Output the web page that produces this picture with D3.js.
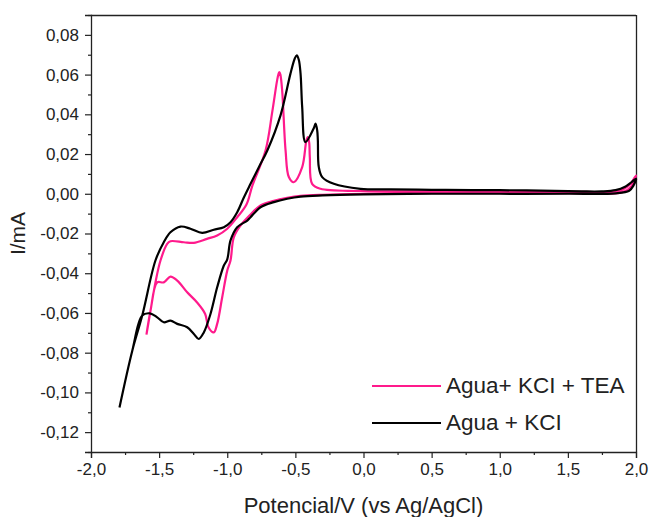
<!DOCTYPE html>
<html>
<head>
<meta charset="utf-8">
<script src="https://cdn.jsdelivr.net/npm/d3@7"></script>
<style>
  html, body { margin: 0; padding: 0; background: #fff; }
  svg { display: block; }
  text { font-family: "Liberation Sans", Arial, sans-serif; fill: #222; }
</style>
</head>
<body>
<svg id="chart" width="649" height="517"></svg>
<script>
// ---- Data ----
const seriesNames = ["Agua+ KCI + TEA", "Agua + KCI"];
const seriesColors = ["#ff1a8c", "#000000"];

// Agua + KCI (black) : potential (V) and current (mA), in scan order
const kclV = [-1.791, -1.697, -1.624, -1.527, -1.466, -1.417, -1.343, -1.270, -1.184, -1.099, -1.025, -0.976, -0.927, -0.879, -0.829, -0.768, -0.706, -0.609, -0.536, -0.505, -0.490, -0.475, -0.462, -0.450, -0.426, -0.365, -0.352, -0.340, -0.335, -0.328, -0.303, -0.218, -0.022, 0.2, 0.5, 0.8, 1.0, 1.3, 1.6, 1.75, 1.85, 1.92, 1.97, 2.0,
  1.98, 1.95, 1.85, 1.5, 1.0, 0.5, 0.0, -0.3, -0.462, -0.560, -0.658, -0.756, -0.829, -0.853, -0.927, -0.976, -1.000, -1.025, -1.074, -1.123, -1.172, -1.209, -1.245, -1.294, -1.367, -1.417, -1.466, -1.514, -1.568, -1.624, -1.697, -1.791];
const kclI = [-0.1076, -0.0790, -0.0613, -0.0336, -0.0244, -0.0194, -0.0165, -0.0176, -0.0197, -0.0181, -0.0168, -0.0143, -0.0093, -0.0020, 0.0050, 0.0134, 0.0218, 0.0395, 0.0605, 0.0680, 0.0697, 0.0675, 0.0605, 0.0436, 0.0260, 0.0330, 0.0353, 0.0320, 0.0269, 0.0134, 0.0084, 0.0050, 0.0025, 0.0022, 0.0020, 0.0018, 0.0018, 0.0016, 0.0012, 0.0012, 0.0018, 0.0035, 0.0060, 0.0075,
  0.0040, 0.0015, 0.0002, 0.0000, 0.0000, 0.0000, -0.0003, -0.0008, -0.0014, -0.0025, -0.0042, -0.0068, -0.0118, -0.0135, -0.0168, -0.0235, -0.0330, -0.0361, -0.0471, -0.0605, -0.0698, -0.0731, -0.0706, -0.0672, -0.0655, -0.0639, -0.0647, -0.0622, -0.0602, -0.0613, -0.0790, -0.1076];

// Agua+ KCI + TEA (pink)
const teaV = [-1.593, -1.563, -1.527, -1.490, -1.441, -1.417, -1.319, -1.246, -1.149, -1.074, -1.000, -0.927, -0.859, -0.815, -0.719, -0.670, -0.634, -0.623, -0.617, -0.610, -0.597, -0.572, -0.548, -0.512, -0.450, -0.419, -0.409, -0.399, -0.394, -0.377, -0.316, -0.022, 0.5, 1.0, 1.5, 1.8, 1.9, 1.96, 2.0,
  1.97, 1.9, 1.5, 0.5, 0.0, -0.3, -0.462, -0.560, -0.658, -0.756, -0.829, -0.903, -0.952, -0.976, -1.000, -1.037, -1.074, -1.099, -1.138, -1.162, -1.223, -1.294, -1.367, -1.417, -1.466, -1.514, -1.563, -1.593];
const teaI = [-0.0709, -0.0588, -0.0446, -0.0336, -0.0252, -0.0239, -0.0244, -0.0247, -0.0227, -0.0210, -0.0176, -0.0118, -0.0054, 0.0042, 0.0218, 0.0411, 0.0571, 0.0605, 0.0613, 0.0600, 0.0521, 0.0218, 0.0084, 0.0058, 0.0134, 0.0269, 0.0285, 0.0260, 0.0184, 0.0050, 0.0025, 0.0014, 0.0012, 0.0012, 0.0010, 0.0010, 0.0020, 0.0050, 0.0092,
  0.0040, 0.0008, 0.0003, 0.0003, 0.0000, -0.0005, -0.0011, -0.0021, -0.0036, -0.0059, -0.0104, -0.0160, -0.0219, -0.0336, -0.0387, -0.0521, -0.0655, -0.0698, -0.0672, -0.0605, -0.0546, -0.0496, -0.0437, -0.0417, -0.0446, -0.0446, -0.0588, -0.0709];

const xMajorTicks = [-2.0, -1.5, -1.0, -0.5, 0.0, 0.5, 1.0, 1.5, 2.0];
const xMinorTicks = [-1.75, -1.25, -0.75, -0.25, 0.25, 0.75, 1.25, 1.75];
const yMajorTicks = [-0.12, -0.10, -0.08, -0.06, -0.04, -0.02, 0.00, 0.02, 0.04, 0.06, 0.08];
const yMinorTicks = [-0.13, -0.11, -0.09, -0.07, -0.05, -0.03, -0.01, 0.01, 0.03, 0.05, 0.07, 0.09];

const xTitle = "Potencial/V (vs Ag/AgCl)";
const yTitle = "I/mA";

// ---- Layout ----
const svg = d3.select("#chart");
const L = 91, R = 636, T = 15, B = 452;
const x = d3.scaleLinear().domain([-2, 2]).range([L, R]);
const y = d3.scaleLinear().domain([-0.13, 0.09]).range([B, T]);

const fmtX = d => d3.format(".1f")(d).replace(".", ",").replace("−", "-");
const fmtY = d => d3.format(".2f")(d).replace(".", ",").replace("−", "-");

// frame (top & right)
svg.append("line").attr("x1", L).attr("x2", R).attr("y1", T + 0.5).attr("y2", T + 0.5)
  .attr("stroke", "#222").attr("stroke-width", 1.3);
svg.append("line").attr("x1", R + 0.5).attr("x2", R + 0.5).attr("y1", T).attr("y2", B)
  .attr("stroke", "#222").attr("stroke-width", 1.3);

// x axis
svg.append("g").attr("transform", `translate(0,${B})`)
  .call(d3.axisBottom(x).tickValues(xMajorTicks).tickFormat(fmtX).tickSize(6).tickPadding(5));
svg.append("g").attr("transform", `translate(0,${B})`)
  .call(d3.axisBottom(x).tickValues(xMinorTicks).tickFormat("").tickSize(3))
  .select(".domain").remove();

// y axis
svg.append("g").attr("transform", `translate(${L},0)`)
  .call(d3.axisLeft(y).tickValues(yMajorTicks).tickFormat(fmtY).tickSize(6).tickPadding(6));
svg.append("g").attr("transform", `translate(${L},0)`)
  .call(d3.axisLeft(y).tickValues(yMinorTicks).tickFormat("").tickSize(3))
  .select(".domain").remove();

svg.selectAll(".domain").attr("stroke", "#222").attr("stroke-width", 1.3);
svg.selectAll(".tick line").attr("stroke", "#222").attr("stroke-width", 1.2);
svg.selectAll(".tick text").style("font-family", "'Liberation Sans', Arial, sans-serif")
  .style("font-size", "17px").attr("fill", "#333");

// titles
svg.append("text").attr("x", (L + R) / 2).attr("y", 513).attr("text-anchor", "middle")
  .style("font-size", "22px").attr("fill", "#333").text(xTitle);
svg.append("text").attr("transform", `translate(25,${(T + B) / 2}) rotate(-90)`)
  .attr("text-anchor", "middle").style("font-size", "21px").attr("fill", "#333").text(yTitle);

// curves
const line = d3.line().x(d => x(d[0])).y(d => y(d[1])).curve(d3.curveCatmullRom.alpha(0.5));
const teaData = teaV.map((v, i) => [v, teaI[i]]);
const kclData = kclV.map((v, i) => [v, kclI[i]]);

const plot = svg.append("g");
plot.append("path").datum(teaData).attr("d", line).attr("fill", "none")
  .attr("stroke", seriesColors[0]).attr("stroke-width", 2.2).attr("stroke-linejoin", "round");
plot.append("path").datum(kclData).attr("d", line).attr("fill", "none")
  .attr("stroke", seriesColors[1]).attr("stroke-width", 2.2).attr("stroke-linejoin", "round");

// legend
const legendY = [386, 423];
seriesNames.forEach((name, i) => {
  svg.append("line").attr("x1", 372).attr("x2", 441).attr("y1", legendY[i]).attr("y2", legendY[i])
    .attr("stroke", seriesColors[i]).attr("stroke-width", 2);
  svg.append("text").attr("x", 446).attr("y", legendY[i] + 7)
    .style("font-size", "22.5px").attr("fill", "#333").text(name);
});
</script>
</body>
</html>
